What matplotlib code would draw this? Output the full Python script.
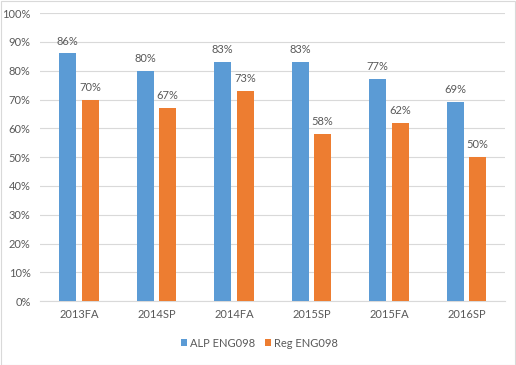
import matplotlib.pyplot as plt
import numpy as np

# données
categories = ["2013FA", "2014SP", "2014FA", "2015SP", "2015FA", "2016SP"]
alp = [86, 80, 83, 83, 77, 69]
reg = [70, 67, 73, 58, 62, 50]

c_alp = "#5B9BD5"
c_reg = "#ED7D31"
grey = "#595959"

plt.rcParams['font.family'] = ['Lato', 'DejaVu Sans']

fig = plt.figure(figsize=(5.16, 3.65), dpi=100)
ax = fig.add_axes([0.078, 0.175, 0.901, 0.789])

x = np.arange(len(categories))
w = 0.22
b1 = ax.bar(x - 0.145, alp, w, color=c_alp, label="ALP ENG098", zorder=3)
b2 = ax.bar(x + 0.145, reg, w, color=c_reg, label="Reg ENG098", zorder=3)

for bars, vals in [(b1, alp), (b2, reg)]:
    for r, v in zip(bars, vals):
        ax.annotate("{}%".format(v), (r.get_x() + r.get_width() / 2, v),
                    xytext=(0, 5), textcoords="offset points",
                    ha="center", va="bottom", fontsize=8, color=grey)

ax.set_ylim(0, 100)
ax.set_xlim(-0.5, len(categories) - 0.5)
ax.set_yticks(range(0, 101, 10))
ax.set_yticklabels(["{}%".format(t) for t in range(0, 101, 10)])
ax.set_xticks(x)
ax.set_xticklabels(categories)
ax.tick_params(axis="both", length=0, labelsize=8, colors=grey)
ax.tick_params(axis="y", pad=7)
ax.tick_params(axis="x", pad=6)
ax.grid(axis="y", color="#D9D9D9", linewidth=0.8, zorder=0)
for s in ["top", "right", "left"]:
    ax.spines[s].set_visible(False)
ax.spines["bottom"].set_color("#D9D9D9")

fig.legend(loc="center", bbox_to_anchor=(0.502, 0.06), ncol=2, frameon=False,
           fontsize=8, handlelength=0.6, handleheight=0.6, handletextpad=0.2,
           columnspacing=0.9, labelcolor=grey)

# cadre
fig.patches.append(plt.Rectangle((0.001, 0.001), 0.997, 0.997, transform=fig.transFigure,
                                 fill=False, edgecolor="#D9D9D9", linewidth=0.8))

fig.savefig("out.png", dpi=100)
